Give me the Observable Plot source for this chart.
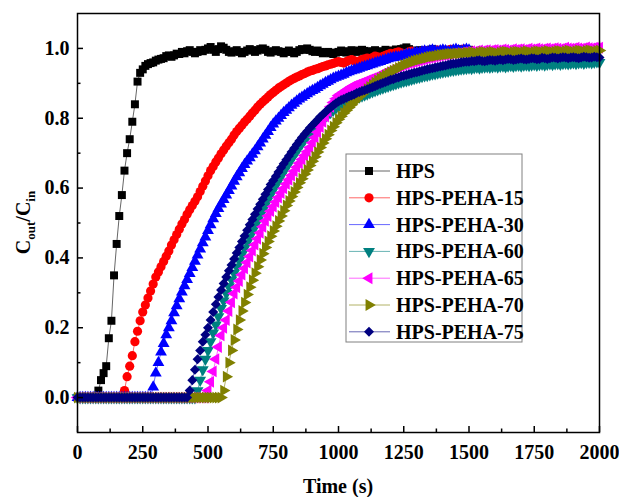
<!DOCTYPE html>
<html><head><meta charset="utf-8">
<script src="https://cdn.jsdelivr.net/npm/d3@7"></script>
<script src="https://cdn.jsdelivr.net/npm/@observablehq/plot@0.6"></script>
<style>
body{margin:0;background:#fff;}
#chart{width:619px;height:497px;}
</style></head><body><div id="chart"></div>
<script>
// sampling interval of every series (s); value i is at time i*sampleStep
const sampleStep = 10;

const seriesNames = ["HPS","HPS-PEHA-15","HPS-PEHA-30","HPS-PEHA-60","HPS-PEHA-65","HPS-PEHA-70","HPS-PEHA-75"];

const hps = [
0,0,0,0,0,0,0,0,0.02,0.05,
0.07,0.09,0.17,0.22,0.35,0.44,0.52,0.58,0.65,0.70,
0.74,0.79,0.84,0.905,0.93,0.94,0.95,0.955,0.958,0.96,
0.965,0.968,0.97,0.972,0.978,0.98,0.976,0.98,0.985,0.984,
0.99,0.986,0.992,0.995,0.99,0.986,0.99,0.995,0.992,0.996,
1.0,1.004,0.996,0.99,0.998,1.006,1.002,0.996,0.99,0.988,
0.992,0.995,0.99,0.986,0.99,0.994,0.998,0.995,0.99,0.994,
0.998,1.0,0.996,0.99,0.988,0.992,0.995,0.992,0.99,0.986,
0.99,0.994,0.99,0.986,0.99,0.995,0.998,0.996,1.0,0.996,
0.992,0.99,0.994,0.99,0.986,0.988,0.99,0.986,0.984,0.988,
0.99,0.994,0.99,0.988,0.992,0.995,0.992,0.99,0.994,0.996,
0.993,0.99,0.988,0.992,0.995,0.99,0.988,0.992,0.996,0.993,
0.99,0.994,0.997,0.995,0.998,1.0,1.003,0.998,0.994,0.99,
0.992,0.995,0.993,0.99,0.992,0.995,0.998,0.994,0.99,0.993,
0.996,0.994,0.99,0.992,0.995,0.993,0.996,0.998,0.995,0.993,
0.996];

const peha15 = [
0,0,0,0,0,0,0,0,0,0,
0,0,0,0,0,0,0,0,0.02,0.06,
0.09,0.12,0.16,0.19,0.22,0.245,0.265,0.285,0.305,0.325,
0.345,0.36,0.375,0.39,0.405,0.42,0.437,0.452,0.467,0.482,
0.497,0.51,0.525,0.538,0.55,0.562,0.575,0.59,0.605,0.62,
0.635,0.65,0.662,0.675,0.686,0.698,0.709,0.72,0.73,0.74,
0.752,0.762,0.771,0.78,0.789,0.797,0.806,0.815,0.823,0.832,
0.84,0.847,0.854,0.861,0.868,0.874,0.88,0.886,0.891,0.896,
0.901,0.906,0.91,0.914,0.918,0.921,0.925,0.928,0.932,0.935,
0.937,0.94,0.942,0.945,0.948,0.95,0.953,0.955,0.957,0.96,
0.962,0.96,0.958,0.962,0.966,0.968,0.965,0.962,0.964,0.968,
0.97,0.972,0.97,0.974,0.978,0.976,0.974,0.977,0.98,0.983,
0.986,0.984,0.988,0.99,0.987,0.984,0.986,0.99,0.992,0.988,
0.985,0.988,0.991,0.994,0.99,0.987,0.99,0.993,0.995,0.992,
0.99,0.992,0.995,0.997,0.994,0.99,0.993,0.996,0.998,0.995,
0.993];

const peha30 = [
0,0,0,0,0,0,0,0,0,0,
0,0,0,0,0,0,0,0,0,0,
0,0,0,0,0,0,0,0,0,0.03,
0.07,0.10,0.13,0.155,0.18,0.20,0.22,0.243,0.263,0.283,
0.302,0.32,0.338,0.355,0.372,0.39,0.408,0.425,0.443,0.46,
0.478,0.495,0.512,0.527,0.541,0.554,0.567,0.58,0.593,0.606,
0.619,0.632,0.644,0.656,0.667,0.677,0.687,0.697,0.707,0.718,
0.729,0.74,0.751,0.762,0.773,0.783,0.792,0.80,0.808,0.816,
0.823,0.83,0.837,0.843,0.849,0.855,0.86,0.865,0.87,0.875,
0.879,0.883,0.888,0.893,0.897,0.902,0.906,0.91,0.914,0.917,
0.92,0.923,0.926,0.93,0.933,0.936,0.938,0.94,0.943,0.946,
0.948,0.95,0.953,0.955,0.958,0.96,0.962,0.965,0.967,0.97,
0.972,0.974,0.976,0.975,0.978,0.98,0.982,0.984,0.983,0.986,
0.988,0.987,0.99,0.992,0.99,0.993,0.995,0.992,0.99,0.993,
0.995,0.993,0.99,0.992,0.995,0.997,0.994,0.992,0.995,0.997,
0.995];

const peha60 = [
0,0,0,0,0,0,0,0,0,0,
0,0,0,0,0,0,0,0,0,0,
0,0,0,0,0,0,0,0,0,0,
0,0,0,0,0,0,0,0,0,0,
0,0,0,0,0,0,0.02,0.05,0.08,0.11,
0.135,0.16,0.185,0.208,0.232,0.255,0.277,0.298,0.318,0.337,
0.356,0.374,0.392,0.41,0.427,0.444,0.46,0.476,0.492,0.507,
0.522,0.537,0.552,0.567,0.581,0.595,0.608,0.621,0.634,0.647,
0.659,0.671,0.683,0.695,0.706,0.717,0.728,0.738,0.748,0.757,
0.766,0.774,0.782,0.79,0.797,0.804,0.811,0.817,0.823,0.829,
0.834,0.838,0.842,0.846,0.849,0.852,0.855,0.858,0.861,0.864,
0.867,0.87,0.873,0.876,0.879,0.882,0.885,0.887,0.89,0.892,
0.895,0.897,0.899,0.902,0.904,0.906,0.908,0.91,0.912,0.914,
0.916,0.918,0.92,0.922,0.923,0.925,0.927,0.928,0.93,0.931,
0.933,0.934,0.935,0.937,0.938,0.939,0.94,0.941,0.942,0.943,
0.944,0.943,0.945,0.946,0.944,0.946,0.947,0.948,0.946,0.948,
0.949,0.947,0.949,0.95,0.948,0.95,0.951,0.949,0.951,0.952,
0.95,0.952,0.953,0.951,0.953,0.954,0.952,0.954,0.955,0.953,
0.955,0.956,0.954,0.956,0.957,0.955,0.957,0.958,0.956,0.958,
0.959,0.957,0.959,0.96,0.958,0.96,0.961,0.959,0.961,0.962,
0.96];

const peha65 = [
0,0,0,0,0,0,0,0,0,0,
0,0,0,0,0,0,0,0,0,0,
0,0,0,0,0,0,0,0,0,0,
0,0,0,0,0,0,0,0,0,0,
0,0,0,0,0,0,0,0,0,0,
0.02,0.045,0.075,0.11,0.145,0.178,0.2,0.222,0.248,0.273,
0.298,0.316,0.334,0.352,0.37,0.387,0.404,0.421,0.438,0.455,
0.472,0.489,0.506,0.52,0.534,0.547,0.56,0.573,0.586,0.599,
0.612,0.624,0.636,0.648,0.66,0.671,0.682,0.693,0.704,0.716,
0.73,0.745,0.76,0.775,0.79,0.805,0.82,0.833,0.845,0.856,
0.865,0.87,0.875,0.88,0.885,0.89,0.893,0.896,0.899,0.902,
0.905,0.908,0.911,0.914,0.917,0.92,0.924,0.928,0.931,0.934,
0.937,0.94,0.943,0.946,0.949,0.952,0.954,0.957,0.959,0.961,
0.963,0.965,0.967,0.969,0.971,0.973,0.974,0.976,0.977,0.979,
0.98,0.981,0.982,0.983,0.985,0.986,0.986,0.988,0.989,0.99,
0.99,0.992,0.991,0.993,0.994,0.992,0.994,0.995,0.993,0.995,
0.996,0.994,0.995,0.997,0.996,0.994,0.996,0.998,0.996,0.997,
0.998,0.996,0.997,0.999,0.997,0.998,1.0,0.998,0.997,0.999,
1.0,0.998,0.999,1.001,0.999,0.998,1.0,1.002,1.0,0.999,
1.0,1.002,1.0,0.999,1.001,1.003,1.001,1.0,1.002,1.003,
1.002];

const peha70 = [
0,0,0,0,0,0,0,0,0,0,
0,0,0,0,0,0,0,0,0,0,
0,0,0,0,0,0,0,0,0,0,
0,0,0,0,0,0,0,0,0,0,
0,0,0,0,0,0,0,0,0,0,
0,0,0,0,0,0,0.02,0.06,0.10,0.135,
0.165,0.195,0.222,0.248,0.272,0.295,0.316,0.336,0.356,0.375,
0.394,0.412,0.43,0.447,0.462,0.477,0.491,0.506,0.52,0.535,
0.55,0.563,0.576,0.589,0.602,0.615,0.627,0.64,0.652,0.665,
0.677,0.69,0.703,0.716,0.729,0.741,0.753,0.765,0.776,0.787,
0.797,0.806,0.815,0.823,0.831,0.839,0.847,0.855,0.862,0.869,
0.876,0.883,0.89,0.896,0.902,0.908,0.913,0.918,0.923,0.928,
0.932,0.936,0.94,0.944,0.948,0.952,0.955,0.958,0.961,0.964,
0.966,0.968,0.97,0.972,0.974,0.976,0.977,0.978,0.98,0.981,
0.982,0.983,0.984,0.985,0.984,0.986,0.985,0.987,0.986,0.988,
0.987,0.989,0.988,0.986,0.988,0.99,0.989,0.987,0.989,0.99,
0.988,0.986,0.988,0.99,0.991,0.989,0.987,0.989,0.991,0.99,
0.988,0.99,0.992,0.99,0.988,0.99,0.992,0.991,0.989,0.991,
0.993,0.991,0.989,0.991,0.993,0.992,0.99,0.992,0.994,0.992,
0.99,0.992,0.994,0.993,0.991,0.993,0.995,0.993,0.991,0.993,
0.994];

const peha75 = [
0,0,0,0,0,0,0,0,0,0,
0,0,0,0,0,0,0,0,0,0,
0,0,0,0,0,0,0,0,0,0,
0,0,0,0,0,0,0,0,0,0,
0,0,0,0.02,0.05,0.08,0.11,0.135,0.16,0.18,
0.20,0.222,0.245,0.267,0.288,0.308,0.327,0.345,0.363,0.38,
0.397,0.414,0.43,0.447,0.463,0.479,0.495,0.51,0.525,0.54,
0.554,0.568,0.582,0.596,0.61,0.622,0.634,0.646,0.658,0.67,
0.681,0.692,0.703,0.714,0.725,0.735,0.745,0.754,0.763,0.772,
0.78,0.788,0.796,0.804,0.811,0.818,0.825,0.831,0.837,0.843,
0.848,0.852,0.855,0.859,0.862,0.865,0.868,0.872,0.875,0.878,
0.88,0.883,0.886,0.889,0.892,0.895,0.898,0.901,0.904,0.907,
0.91,0.912,0.915,0.917,0.92,0.922,0.924,0.926,0.928,0.93,
0.932,0.934,0.936,0.938,0.94,0.942,0.943,0.945,0.947,0.948,
0.95,0.951,0.953,0.955,0.956,0.957,0.958,0.96,0.961,0.962,
0.962,0.964,0.963,0.965,0.966,0.964,0.963,0.965,0.967,0.966,
0.965,0.967,0.968,0.966,0.968,0.97,0.969,0.967,0.968,0.97,
0.971,0.969,0.968,0.97,0.972,0.971,0.969,0.97,0.973,0.972,
0.97,0.972,0.974,0.973,0.971,0.973,0.975,0.974,0.972,0.974,
0.975,0.973,0.972,0.974,0.976,0.975,0.973,0.974,0.976,0.975,
0.974];

const xTicks = [0,250,500,750,1000,1250,1500,1750,2000];
const xMinorTicks = [125,375,625,875,1125,1375,1625,1875];
const yTicks = [0.0,0.2,0.4,0.6,0.8,1.0];
const yMinorTicks = [0.1,0.3,0.5,0.7,0.9];

const colors = ["#000000","#ff0000","#0000ff","#008080","#ff00ff","#808000","#000080"];

// marker shapes
const sqrt3 = Math.sqrt(3);
function triangle(angle){
  const a = angle*Math.PI/180, c = Math.cos(a), s = Math.sin(a);
  return {draw(ctx, size){
    const y = -Math.sqrt(size/(sqrt3*3));
    [[0,2*y],[-sqrt3*y,-y],[sqrt3*y,-y]].forEach(([x0,y0],i)=>{
      const x = x0*c - y0*s, yy = x0*s + y0*c;
      i ? ctx.lineTo(x,yy) : ctx.moveTo(x,yy);
    });
    ctx.closePath();
  }};
}
const diamond = {draw(ctx,size){
  const d = Math.sqrt(size/2);
  ctx.moveTo(0,-d); ctx.lineTo(d,0); ctx.lineTo(0,d); ctx.lineTo(-d,0); ctx.closePath();
}};
const symbols = [d3.symbolSquare, d3.symbolCircle, triangle(0), triangle(180), triangle(-90), triangle(90), diamond];
const radii = [4.5, 4.6, 4.4, 4.4, 4.4, 4.4, 4.0];

const allValues = [hps, peha15, peha30, peha60, peha65, peha70, peha75];

const W = 619, H = 497, mL = 77, mR = 20, mT = 13, mB = 65;
const plotW = W - mL - mR, plotH = H - mT - mB;

const seriesMarks = [];
allValues.forEach((vals, k) => {
  const rows = vals.map((v, i) => ({t: i*sampleStep, v}));
  seriesMarks.push(Plot.line(rows, {x: "t", y: "v", stroke: colors[k], strokeWidth: 1, strokeOpacity: 0.6}));
  seriesMarks.push(Plot.dot(rows, {x: "t", y: "v", symbol: symbols[k], r: radii[k], fill: colors[k], stroke: "none"}));
});

const chart = Plot.plot({
  width: W, height: H,
  marginLeft: mL, marginRight: mR, marginTop: mT, marginBottom: mB,
  x: {domain: [0, 2000]},
  y: {domain: [-0.1, 1.1]},
  style: {fontFamily: "'Liberation Serif','Times New Roman',serif", fontSize: "20px", fontWeight: "bold", color: "black", background: "white"},
  marks: [
    ...seriesMarks,
    Plot.tickX(xTicks, {x: d => d, insetTop: plotH - 6, stroke: "black", strokeWidth: 1.5}),
    Plot.tickX(xMinorTicks, {x: d => d, insetTop: plotH - 3.5, stroke: "black", strokeWidth: 1.5}),
    Plot.tickY(yTicks, {y: d => d, insetRight: plotW - 6, stroke: "black", strokeWidth: 1.5}),
    Plot.tickY(yMinorTicks, {y: d => d, insetRight: plotW - 3.5, stroke: "black", strokeWidth: 1.5}),
    Plot.axisX({ticks: xTicks, tickSize: 0, tickPadding: 12, tickFormat: d => String(d), label: null}),
    Plot.axisY({ticks: yTicks, tickSize: 0, tickPadding: 8, tickFormat: d3.format(".1f"), label: null}),
    Plot.frame({stroke: "black", strokeWidth: 1.5})
  ]
});
document.getElementById("chart").appendChild(chart);

const svg = d3.select(chart);
const ff = "'Liberation Serif','Times New Roman',serif";
// x title
svg.append("text").attr("x", mL + plotW/2).attr("y", 493).attr("text-anchor","middle")
  .attr("font-family", ff).attr("font-weight","bold").attr("font-size", 20).attr("fill","black").text("Time (s)");
// y title with subscripts
const yt = svg.append("text").attr("transform", `translate(30,${mT + plotH/2}) rotate(-90)`)
  .attr("text-anchor","middle").attr("font-family", ff).attr("font-weight","bold").attr("font-size", 20).attr("fill","black");
yt.append("tspan").text("C");
yt.append("tspan").attr("font-size", 13).attr("dy", 5).text("out");
yt.append("tspan").attr("dy", -5).text("/C");
yt.append("tspan").attr("font-size", 13).attr("dy", 5).text("in");

// legend
const lg = svg.append("g").attr("text-anchor", "start");
lg.append("rect").attr("x", 346).attr("y", 154).attr("width", 176).attr("height", 188)
  .attr("fill", "white").attr("stroke", "#808080").attr("stroke-width", 1);
seriesNames.forEach((name, k) => {
  const cy = 171 + k*26.8;
  lg.append("line").attr("x1", 349).attr("x2", 390).attr("y1", cy).attr("y2", cy)
    .attr("stroke", colors[k]).attr("stroke-width", 1).attr("stroke-opacity", 0.6);
  lg.append("path").attr("transform", `translate(369,${cy})`)
    .attr("d", d3.symbol(symbols[k], Math.PI*radii[k]*radii[k])()).attr("fill", colors[k]);
  lg.append("text").attr("x", 396).attr("y", cy).attr("dy", "0.35em").attr("text-anchor", "start")
    .attr("font-family", ff).attr("font-weight","bold").attr("font-size", 20).attr("fill","black").text(name);
});
</script>
</body></html>
